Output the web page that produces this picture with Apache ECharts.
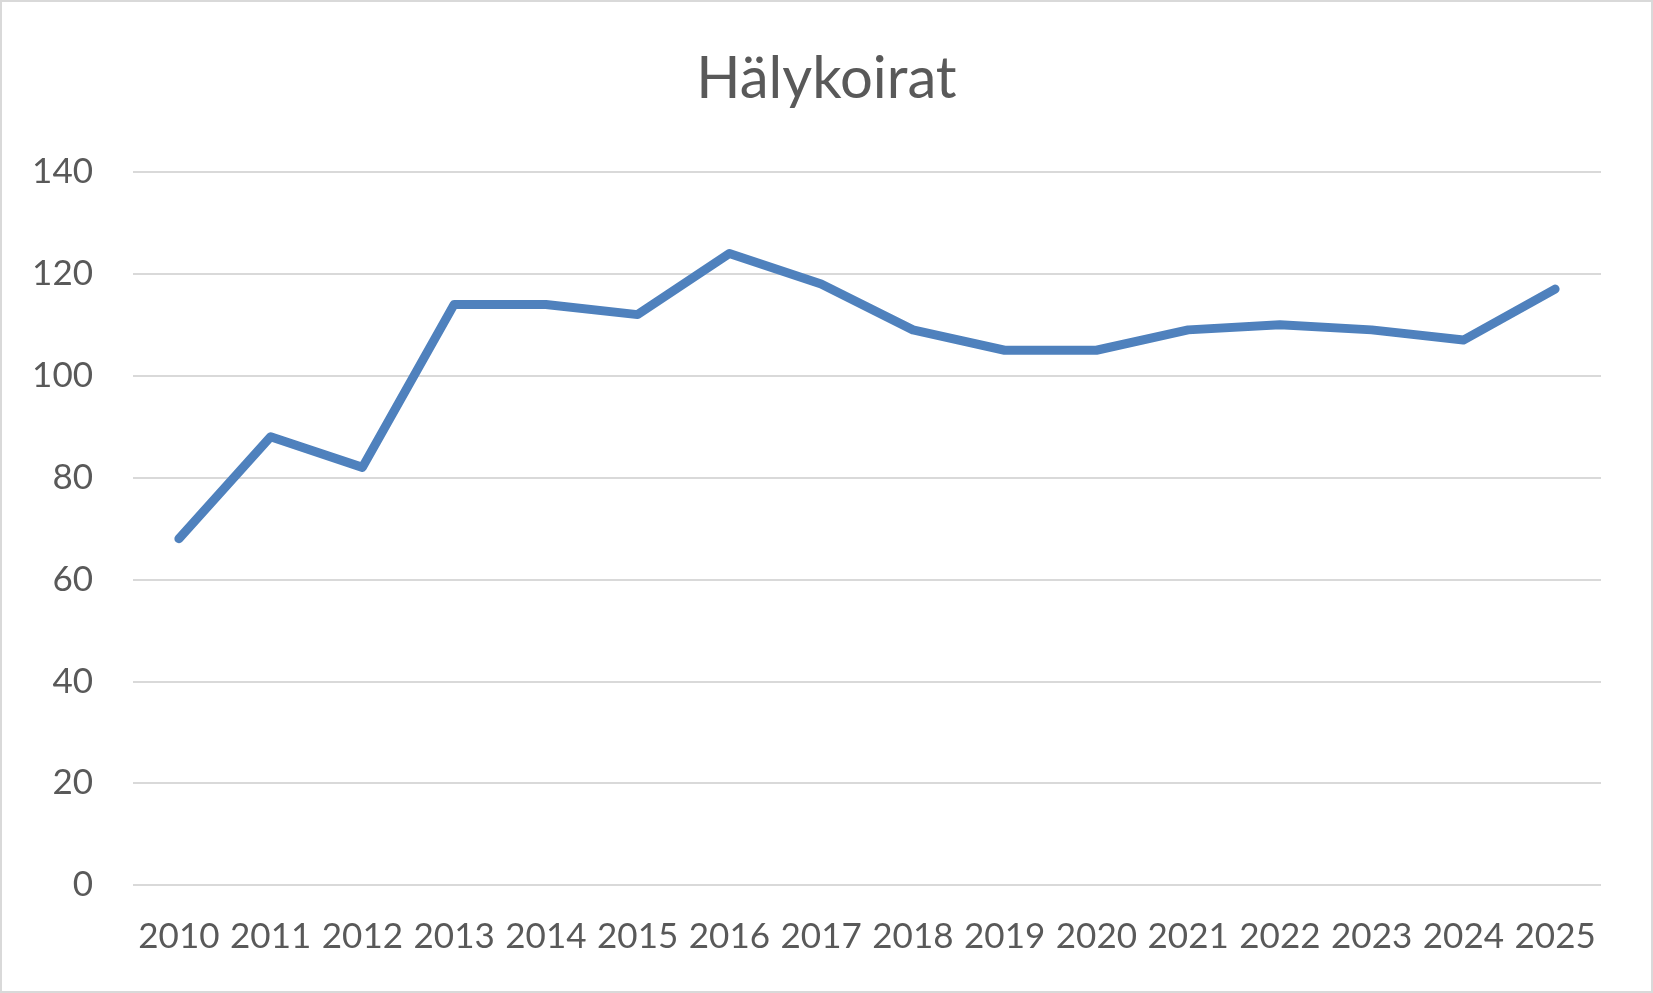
<!DOCTYPE html>
<html>
<head>
<meta charset="utf-8">
<script src="https://cdn.jsdelivr.net/npm/echarts@6/dist/echarts.min.js"></script>
<style>
  html, body { margin: 0; padding: 0; background: #fff; }
  #chart { width: 1653px; height: 993px; box-sizing: border-box; border: 2px solid #d9d9d9; }
</style>
</head>
<body>
<div id="chart"></div>
<script>
const titleText = 'Hälykoirat';
const years = ['2010','2011','2012','2013','2014','2015','2016','2017','2018','2019','2020','2021','2022','2023','2024','2025'];
const values = [68, 88, 82, 114, 114, 112, 124, 118, 109, 105, 105, 109, 110, 109, 107, 117];
const yMin = 0, yMax = 140, yStep = 20;

const chart = echarts.init(document.getElementById('chart'), null, { renderer: 'canvas' });
const font = 'Lato, Carlito, Calibri, "Open Sans", sans-serif';
chart.setOption({
  animation: false,
  backgroundColor: '#ffffff',
  title: {
    text: titleText,
    left: 'center',
    top: 43,
    textStyle: { fontFamily: font, fontSize: 58, fontWeight: 'normal', color: '#595959' }
  },
  grid: { left: 131, right: 50, top: 170, bottom: 106, containLabel: false },
  xAxis: {
    type: 'category',
    data: years,
    boundaryGap: true,
    axisLine: { show: false },
    axisTick: { show: false },
    axisLabel: { fontFamily: font, fontSize: 35, color: '#595959', margin: 34, interval: 0 },
    splitLine: { show: false }
  },
  yAxis: {
    type: 'value',
    min: yMin, max: yMax, interval: yStep,
    axisLine: { show: false },
    axisTick: { show: false },
    axisLabel: { fontFamily: font, fontSize: 35, color: '#595959', margin: 40 },
    splitLine: { lineStyle: { color: '#d9d9d9', width: 2 } }
  },
  series: [{
    type: 'line',
    data: values,
    symbol: 'none',
    lineStyle: { color: '#4f81bd', width: 9, cap: 'round', join: 'round' },
    itemStyle: { color: '#4f81bd' }
  }]
});
</script>
</body>
</html>
